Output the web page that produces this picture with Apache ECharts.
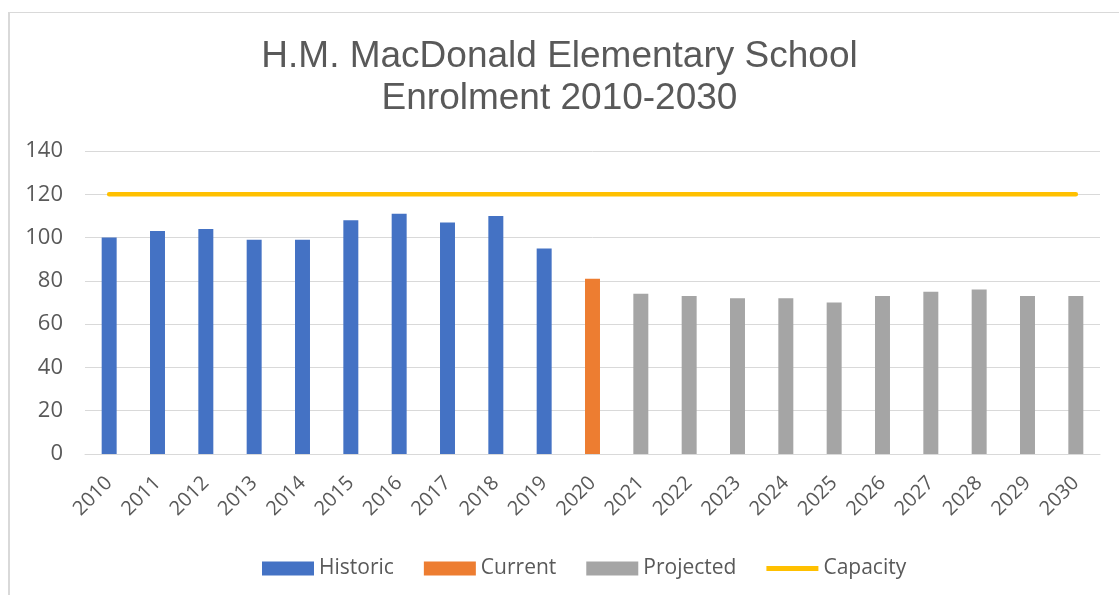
<!DOCTYPE html>
<html>
<head>
<meta charset="utf-8">
<script src="https://cdn.jsdelivr.net/npm/echarts@6/dist/echarts.min.js"></script>
<style>
html,body{margin:0;padding:0;background:#fff;overflow:hidden;}
#frame{position:absolute;left:8px;top:12px;width:1200px;height:700px;border-left:2px solid #d9d9d9;border-top:1px solid #d9d9d9;}
#chart{position:absolute;left:0;top:0;width:1119px;height:595px;}
</style>
</head>
<body>
<div id="frame"></div>
<div id="chart"></div>
<script>
const years = ['2010','2011','2012','2013','2014','2015','2016','2017','2018','2019','2020','2021','2022','2023','2024','2025','2026','2027','2028','2029','2030'];
const historic = [100,103,104,99,99,108,111,107,110,95,null,null,null,null,null,null,null,null,null,null,null];
const current = [null,null,null,null,null,null,null,null,null,null,81,null,null,null,null,null,null,null,null,null,null];
const projected = [null,null,null,null,null,null,null,null,null,null,null,74,73,72,72,70,73,75,76,73,73];
const capacity = [120,120,120,120,120,120,120,120,120,120,120,120,120,120,120,120,120,120,120,120,120];
const yTicks = {min:0, max:140, interval:20};

const chart = echarts.init(document.getElementById('chart'), null, {renderer:'canvas'});
const txt = '#595959';
chart.setOption({
  animation:false,
  title:{
    text:'H.M. MacDonald Elementary School\nEnrolment 2010-2030',
    left:'center', top:31,
    textStyle:{fontFamily:'Liberation Sans, Arial, sans-serif', fontSize:37, fontWeight:'normal', color:txt, lineHeight:42}
  },
  legend:{
    bottom:11, left:257, itemGap:30, itemWidth:52, itemHeight:14,
    textStyle:{fontFamily:'Open Sans, sans-serif', fontSize:21, color:txt, padding:[0,0,0,0]},
    data:[
      {name:'Historic', icon:'rect'},
      {name:'Current', icon:'rect'},
      {name:'Projected', icon:'rect'},
      {name:'Capacity', icon:'path://M0,0 L10,0 L10,1 L0,1 Z'}
    ]
  },
  grid:{left:85, right:19, top:151, bottom:141},
  xAxis:{
    type:'category', data:years,
    axisLine:{lineStyle:{color:'#d9d9d9', width:1}},
    axisTick:{show:false},
    axisLabel:{rotate:45, fontFamily:'Open Sans, sans-serif', fontSize:20, color:txt, margin:26, interval:0}
  },
  yAxis:{
    type:'value', min:yTicks.min, max:yTicks.max, interval:yTicks.interval,
    axisLine:{show:false}, axisTick:{show:false},
    splitLine:{lineStyle:{color:'#d9d9d9', width:1}},
    axisLabel:{fontFamily:'Open Sans, sans-serif', fontSize:22, color:txt, margin:22}
  },
  series:[
    {name:'Historic', type:'bar', stack:'e', data:historic, barWidth:'31%', itemStyle:{color:'#4472c4'}},
    {name:'Current', type:'bar', stack:'e', data:current, barWidth:'31%', itemStyle:{color:'#ed7d31'}},
    {name:'Projected', type:'bar', stack:'e', data:projected, barWidth:'31%', itemStyle:{color:'#a5a5a5'}},
    {name:'Capacity', type:'line', data:capacity, symbol:'none', lineStyle:{color:'#ffc000', width:4.5, cap:'round'}, itemStyle:{color:'#ffc000'}}
  ]
});
</script>
</body>
</html>
